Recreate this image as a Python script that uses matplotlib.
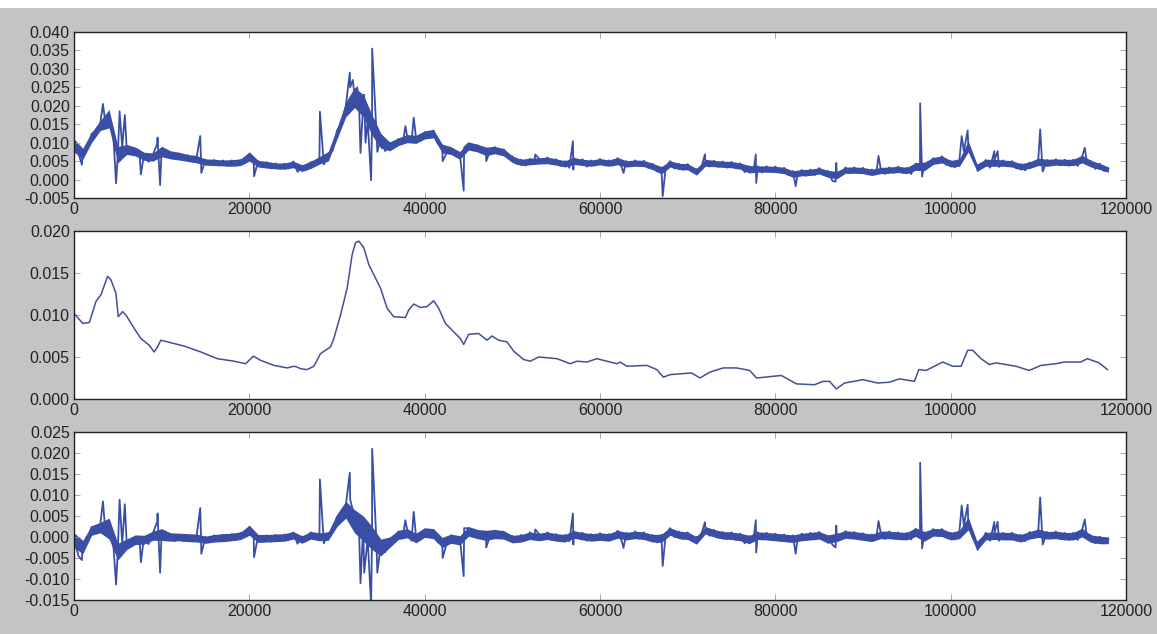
import numpy as np
import matplotlib
matplotlib.use("Agg")
import matplotlib.pyplot as plt
from matplotlib.patches import Rectangle

plt.rcParams['font.family'] = ['Liberation Sans', 'DejaVu Sans']

# sampling grid of the raw / detrended series (every 500 positions)
grid_x = np.arange(0, 118001, 500)

# raw series, one row per 5000 positions
raw_y = [
    0.0102, 0.0072, 0.0076, 0.0082, 0.0124, 0.0128, 0.0153, 0.0168, 0.0169, 0.0113,
    0.0068, 0.0088, 0.0087, 0.0071, 0.0083, 0.0062, 0.0070, 0.0048, 0.0067, 0.0098,
    0.0083, 0.0061, 0.0074, 0.0056, 0.0070, 0.0053, 0.0066, 0.0050, 0.0062, 0.0043,
    0.0054, 0.0039, 0.0053, 0.0038, 0.0052, 0.0037, 0.0052, 0.0037, 0.0053, 0.0045,
    0.0070, 0.0048, 0.0050, 0.0034, 0.0047, 0.0030, 0.0044, 0.0029, 0.0043, 0.0030,
    0.0049, 0.0021, 0.0037, 0.0026, 0.0047, 0.0043, 0.0059, 0.0041, 0.0069, 0.0078,
    0.0133, 0.0152, 0.0199, 0.0250, 0.0230, 0.0220, 0.0210, 0.0160, 0.0160, 0.0130,
    0.0113, 0.0077, 0.0098, 0.0090, 0.0110, 0.0097, 0.0118, 0.0102, 0.0116, 0.0107,
    0.0128, 0.0117, 0.0133, 0.0097, 0.0093, 0.0072, 0.0086, 0.0064, 0.0073, 0.0087,
    0.0098, 0.0080, 0.0093, 0.0072, 0.0083, 0.0080, 0.0088, 0.0068, 0.0082, 0.0062,
    0.0063, 0.0042, 0.0054, 0.0038, 0.0056, 0.0047, 0.0058, 0.0044, 0.0060, 0.0042,
    0.0055, 0.0037, 0.0050, 0.0032, 0.0058, 0.0042, 0.0055, 0.0035, 0.0052, 0.0039,
    0.0056, 0.0038, 0.0052, 0.0038, 0.0058, 0.0032, 0.0050, 0.0036, 0.0052, 0.0036,
    0.0051, 0.0032, 0.0043, 0.0022, 0.0033, 0.0034, 0.0050, 0.0030, 0.0043, 0.0026,
    0.0042, 0.0022, 0.0028, 0.0027, 0.0053, 0.0035, 0.0051, 0.0034, 0.0049, 0.0032,
    0.0048, 0.0030, 0.0044, 0.0020, 0.0036, 0.0022, 0.0036, 0.0019, 0.0036, 0.0020,
    0.0035, 0.0019, 0.0032, 0.0012, 0.0023, 0.0009, 0.0026, 0.0010, 0.0027, 0.0012,
    0.0031, 0.0017, 0.0023, -0.0003, 0.0020, 0.0014, 0.0033, 0.0017, 0.0033, 0.0017,
    0.0032, 0.0014, 0.0027, 0.0014, 0.0032, 0.0015, 0.0033, 0.0018, 0.0035, 0.0018,
    0.0032, 0.0015, 0.0043, 0.0037, 0.0043, 0.0040, 0.0058, 0.0047, 0.0063, 0.0040,
    0.0050, 0.0033, 0.0053, 0.0077, 0.0098, 0.0057, 0.0038, 0.0034, 0.0053, 0.0032,
    0.0053, 0.0034, 0.0052, 0.0036, 0.0050, 0.0030, 0.0042, 0.0025, 0.0046, 0.0037,
    0.0056, 0.0022, 0.0053, 0.0040, 0.0055, 0.0038, 0.0054, 0.0037, 0.0054, 0.0037,
    0.0063, 0.0052, 0.0050, 0.0029, 0.0043, 0.0023, 0.0030,
]

# detrended series on the same grid
resid_y = [
    0.0000, -0.0045, -0.0014, -0.0008, 0.0024, 0.0015, 0.0030, 0.0033, 0.0024, -0.0022,
    -0.0032, -0.0016, -0.0011, -0.0019, 0.0001, -0.0012, 0.0001, -0.0017, 0.0009, 0.0037,
    0.0013, -0.0007, 0.0007, -0.0010, 0.0006, -0.0010, 0.0005, -0.0009, 0.0005, -0.0013,
    0.0000, -0.0012, 0.0004, -0.0010, 0.0005, -0.0009, 0.0007, -0.0007, 0.0010, 0.0003,
    0.0024, -0.0003, 0.0003, -0.0011, 0.0004, -0.0011, 0.0005, -0.0009, 0.0006, -0.0007,
    0.0011, -0.0016, 0.0001, -0.0009, 0.0011, 0.0002, 0.0007, -0.0015, 0.0009, 0.0013,
    0.0048, 0.0048, 0.0074, 0.0090, 0.0047, 0.0032, 0.0029, -0.0005, 0.0010, -0.0012,
    -0.0017, -0.0036, -0.0004, -0.0008, 0.0013, 0.0000, 0.0017, -0.0009, 0.0005, -0.0002,
    0.0018, 0.0005, 0.0016, -0.0013, -0.0005, -0.0016, 0.0004, -0.0014, 0.0000, 0.0021,
    0.0021, 0.0002, 0.0015, -0.0003, 0.0012, 0.0006, 0.0015, -0.0002, 0.0013, -0.0005,
    0.0003, -0.0012, 0.0005, -0.0008, 0.0011, -0.0001, 0.0008, -0.0006, 0.0011, -0.0007,
    0.0007, -0.0010, 0.0005, -0.0010, 0.0014, -0.0003, 0.0010, -0.0009, 0.0007, -0.0008,
    0.0009, -0.0008, 0.0007, -0.0005, 0.0015, -0.0011, 0.0010, -0.0003, 0.0013, -0.0004,
    0.0011, -0.0008, 0.0005, -0.0013, 0.0005, 0.0007, 0.0021, 0.0000, 0.0013, -0.0005,
    0.0011, -0.0009, 0.0000, 0.0002, 0.0024, 0.0003, 0.0017, -0.0002, 0.0012, -0.0005,
    0.0011, -0.0007, 0.0008, -0.0015, 0.0002, -0.0008, 0.0011, -0.0006, 0.0010, -0.0007,
    0.0008, -0.0009, 0.0006, -0.0011, 0.0004, -0.0009, 0.0008, -0.0007, 0.0010, -0.0005,
    0.0012, -0.0004, 0.0003, -0.0018, 0.0007, -0.0003, 0.0014, -0.0003, 0.0012, -0.0005,
    0.0009, -0.0008, 0.0006, -0.0005, 0.0013, -0.0005, 0.0013, -0.0004, 0.0011, -0.0005,
    0.0010, -0.0006, 0.0019, 0.0002, 0.0009, 0.0004, 0.0019, 0.0005, 0.0019, -0.0002,
    0.0010, -0.0006, 0.0014, 0.0027, 0.0040, -0.0001, -0.0014, -0.0013, 0.0010, -0.0009,
    0.0011, -0.0009, 0.0010, -0.0005, 0.0010, -0.0009, 0.0005, -0.0010, 0.0012, 0.0001,
    0.0017, -0.0018, 0.0012, -0.0001, 0.0013, -0.0005, 0.0010, -0.0007, 0.0010, -0.0007,
    0.0018, 0.0004, 0.0004, -0.0015, 0.0001, -0.0015, -0.0005,
]

# spread of the dense noise, read every 1000 positions (one row per 10000)
band_x = np.arange(0, 118001, 1000)
raw_lo = [
    0.0075, 0.0055, 0.0100, 0.0133, 0.0140, 0.0045, 0.0068, 0.0064, 0.0052, 0.0050,
    0.0062, 0.0056, 0.0053, 0.0049, 0.0045, 0.0039, 0.0038, 0.0037, 0.0036, 0.0038,
    0.0050, 0.0034, 0.0031, 0.0029, 0.0028, 0.0032, 0.0022, 0.0030, 0.0042, 0.0050,
    0.0110, 0.0170, 0.0195, 0.0170, 0.0120, 0.0085, 0.0078, 0.0092, 0.0100, 0.0098,
    0.0110, 0.0113, 0.0072, 0.0068, 0.0055, 0.0080, 0.0075, 0.0065, 0.0070, 0.0064,
    0.0046, 0.0038, 0.0040, 0.0042, 0.0043, 0.0039, 0.0034, 0.0041, 0.0038, 0.0036,
    0.0040, 0.0036, 0.0040, 0.0034, 0.0036, 0.0035, 0.0027, 0.0015, 0.0034, 0.0027,
    0.0026, 0.0012, 0.0036, 0.0035, 0.0033, 0.0032, 0.0028, 0.0018, 0.0020, 0.0020,
    0.0019, 0.0016, 0.0006, 0.0010, 0.0011, 0.0015, 0.0006, 0.0002, 0.0017, 0.0017,
    0.0016, 0.0011, 0.0016, 0.0017, 0.0019, 0.0016, 0.0025, 0.0024, 0.0041, 0.0045,
    0.0034, 0.0036, 0.0075, 0.0022, 0.0036, 0.0036, 0.0036, 0.0034, 0.0026, 0.0030,
    0.0038, 0.0036, 0.0039, 0.0038, 0.0038, 0.0045, 0.0034, 0.0027, 0.0020,
]
raw_hi = [
    0.0110, 0.0085, 0.0128, 0.0160, 0.0190, 0.0090, 0.0095, 0.0088, 0.0074, 0.0072,
    0.0090, 0.0078, 0.0074, 0.0068, 0.0065, 0.0056, 0.0055, 0.0053, 0.0054, 0.0056,
    0.0075, 0.0052, 0.0049, 0.0045, 0.0045, 0.0050, 0.0040, 0.0050, 0.0062, 0.0076,
    0.0140, 0.0210, 0.0250, 0.0230, 0.0175, 0.0125, 0.0102, 0.0113, 0.0122, 0.0120,
    0.0132, 0.0136, 0.0096, 0.0089, 0.0076, 0.0102, 0.0096, 0.0088, 0.0090, 0.0084,
    0.0064, 0.0055, 0.0058, 0.0059, 0.0061, 0.0056, 0.0051, 0.0060, 0.0055, 0.0053,
    0.0057, 0.0053, 0.0060, 0.0051, 0.0053, 0.0052, 0.0044, 0.0035, 0.0051, 0.0044,
    0.0043, 0.0030, 0.0055, 0.0052, 0.0050, 0.0049, 0.0045, 0.0038, 0.0037, 0.0037,
    0.0036, 0.0033, 0.0024, 0.0027, 0.0028, 0.0032, 0.0025, 0.0022, 0.0034, 0.0034,
    0.0033, 0.0028, 0.0033, 0.0034, 0.0036, 0.0033, 0.0046, 0.0047, 0.0060, 0.0064,
    0.0052, 0.0056, 0.0105, 0.0042, 0.0055, 0.0055, 0.0053, 0.0051, 0.0043, 0.0048,
    0.0058, 0.0055, 0.0056, 0.0055, 0.0055, 0.0066, 0.0052, 0.0044, 0.0034,
]
resid_lo = [
    -0.0025, -0.0040, 0.0004, 0.0010, -0.0005, -0.0055, -0.0030, -0.0018, -0.0017, -0.0008,
    -0.0008, -0.0010, -0.0009, -0.0011, -0.0012, -0.0015, -0.0012, -0.0011, -0.0009, -0.0006,
    0.0004, -0.0013, -0.0012, -0.0011, -0.0010, -0.0005, -0.0015, -0.0005, -0.0009, -0.0008,
    0.0025, 0.0045, 0.0010, -0.0010, -0.0030, -0.0045, -0.0025, -0.0006, -0.0002, -0.0014,
    -0.0001, -0.0004, -0.0025, -0.0015, -0.0019, 0.0002, -0.0004, -0.0008, -0.0004, -0.0005,
    -0.0014, -0.0012, -0.0006, -0.0009, -0.0006, -0.0010, -0.0012, -0.0003, -0.0007, -0.0010,
    -0.0008, -0.0010, -0.0003, -0.0007, -0.0004, -0.0006, -0.0012, -0.0013, 0.0004, -0.0004,
    -0.0006, -0.0017, 0.0007, 0.0000, -0.0005, -0.0006, -0.0009, -0.0016, -0.0006, -0.0007,
    -0.0009, -0.0011, -0.0013, -0.0009, -0.0007, -0.0005, -0.0015, -0.0011, -0.0003, -0.0005,
    -0.0008, -0.0011, -0.0004, -0.0004, -0.0006, -0.0007, 0.0001, -0.0010, 0.0002, 0.0001,
    -0.0007, -0.0004, 0.0017, -0.0032, -0.0007, -0.0006, -0.0007, -0.0007, -0.0012, -0.0005,
    -0.0001, -0.0005, -0.0004, -0.0007, -0.0007, 0.0000, -0.0013, -0.0016, -0.0016,
]
resid_hi = [
    0.0010, -0.0008, 0.0027, 0.0035, 0.0045, -0.0015, -0.0005, 0.0005, 0.0004, 0.0014,
    0.0020, 0.0010, 0.0009, 0.0008, 0.0007, 0.0002, 0.0006, 0.0008, 0.0009, 0.0012,
    0.0028, 0.0006, 0.0006, 0.0007, 0.0008, 0.0013, 0.0003, 0.0013, 0.0010, 0.0012,
    0.0055, 0.0085, 0.0065, 0.0050, 0.0025, -0.0005, 0.0000, 0.0016, 0.0020, 0.0009,
    0.0022, 0.0020, -0.0001, 0.0007, 0.0003, 0.0025, 0.0018, 0.0016, 0.0018, 0.0015,
    0.0004, 0.0006, 0.0012, 0.0009, 0.0012, 0.0008, 0.0006, 0.0015, 0.0011, 0.0008,
    0.0010, 0.0008, 0.0016, 0.0011, 0.0014, 0.0012, 0.0006, 0.0007, 0.0022, 0.0014,
    0.0012, 0.0001, 0.0025, 0.0018, 0.0013, 0.0012, 0.0009, 0.0004, 0.0012, 0.0011,
    0.0009, 0.0007, 0.0005, 0.0009, 0.0011, 0.0013, 0.0005, 0.0009, 0.0015, 0.0013,
    0.0010, 0.0007, 0.0014, 0.0014, 0.0012, 0.0011, 0.0022, 0.0013, 0.0020, 0.0020,
    0.0011, 0.0016, 0.0047, -0.0010, 0.0011, 0.0012, 0.0011, 0.0011, 0.0006, 0.0013,
    0.0019, 0.0013, 0.0014, 0.0011, 0.0011, 0.0021, 0.0005, 0.0002, 0.0000,
]

# narrow spikes between grid samples
raw_spike_x = [900, 3300, 4800, 5200, 5800, 7630, 9530, 9820, 14400, 14520,
               20540, 28050, 31460, 31800, 32300, 32680, 33100, 33250, 33890, 34010,
               34600, 37800, 38750, 42050, 44450, 47020, 52620, 56910, 56960, 62680,
               67150, 71960, 77770, 77820, 82320, 86870, 86950, 91770, 96520, 96740,
               101260, 101940, 103080, 104980, 105360, 110210, 110480, 115300]
raw_spike_y = [0.0040, 0.0205, -0.0010, 0.0185, 0.0175, 0.0014, 0.0114, -0.0015, 0.0118, 0.0018,
               0.0009, 0.0184, 0.0290, 0.0270, 0.0250, 0.0072, 0.0230, 0.0100, -0.0002, 0.0355,
               0.0075, 0.0145, 0.0168, 0.0050, -0.0030, 0.0050, 0.0068, 0.0104, 0.0027, 0.0018,
               -0.0045, 0.0068, 0.0068, -0.0009, -0.0018, -0.0006, 0.0045, 0.0064, 0.0207, 0.0008,
               0.0118, 0.0133, 0.0024, 0.0077, 0.0077, 0.0136, 0.0025, 0.0086]

resid_spike_x = [900, 3300, 4800, 5200, 5800, 7630, 9530, 9820, 14400, 14520,
                 20540, 28050, 31460, 32680, 33100, 33890, 34010, 34600, 37800, 38750,
                 42050, 44450, 47020, 52620, 56910, 56960, 62680, 67150, 71960, 77770,
                 77820, 82320, 86870, 86950, 91770, 96520, 96740, 101260, 101940, 103080,
                 104980, 105360, 110210, 110480, 115300]
resid_spike_y = [-0.0055, 0.0085, -0.0113, 0.0089, 0.0078, -0.0060, 0.0056, -0.0085, 0.0069, -0.0040,
                 -0.0048, 0.0137, 0.0153, -0.0110, -0.0085, -0.0160, 0.0210, -0.0085, 0.0040, 0.0060,
                 -0.0050, -0.0093, -0.0025, 0.0018, 0.0056, -0.0018, -0.0026, -0.0069, 0.0035, 0.0040,
                 -0.0037, -0.0040, -0.0025, 0.0027, 0.0038, 0.0177, -0.0027, 0.0075, 0.0077, -0.0030,
                 0.0036, 0.0036, 0.0094, -0.0015, 0.0042]

# smoothed trend
trend_x = [0, 1000, 1750, 2500, 3070, 3830, 4210, 4780, 5050, 5540, 5920, 6870, 7630, 8580,
           9140, 9530, 9900, 10670, 12560, 14460, 16360, 18250, 19580, 20460, 21290, 22810,
           24330, 25080, 25460, 25840, 26600, 27360, 28120, 28690, 29260, 29640, 30400, 31160,
           31730, 32110, 32490, 33060, 33630, 34200, 34960, 35720, 36470, 37800, 38180, 38750,
           39510, 40270, 41030, 41600, 42360, 43310, 44070, 44450, 45020, 46160, 47110, 47680,
           48440, 49390, 50150, 51290, 52050, 53000, 55090, 56610, 57370, 58510, 59640, 60780,
           61920, 62300, 63060, 65340, 66480, 67230, 67990, 70450, 71400, 72540, 74060, 75570,
           77090, 77850, 79740, 80690, 82400, 84480, 85430, 86190, 86950, 87890, 89980, 91690,
           93020, 94160, 95870, 96360, 97200, 99090, 100230, 101190, 101940, 102510, 103460,
           104410, 105170, 107450, 108960, 110290, 111990, 112940, 114840, 115600, 116930, 117880]
trend_y = [0.0102, 0.0090, 0.0091, 0.0116, 0.0124, 0.0146, 0.0142, 0.0126, 0.0098, 0.0104,
           0.0100, 0.0084, 0.0072, 0.0064, 0.0056, 0.0062, 0.0070, 0.0068, 0.0063, 0.0056,
           0.0048, 0.0045, 0.0042, 0.0051, 0.0046, 0.0040, 0.0037, 0.0039, 0.0038, 0.0036,
           0.0035, 0.0039, 0.0054, 0.0058, 0.0062, 0.0072, 0.0100, 0.0132, 0.0172, 0.0186,
           0.0188, 0.0180, 0.0160, 0.0148, 0.0132, 0.0108, 0.0098, 0.0097, 0.0106, 0.0113,
           0.0109, 0.0110, 0.0117, 0.0108, 0.0090, 0.0080, 0.0072, 0.0065, 0.0077, 0.0078,
           0.0070, 0.0075, 0.0070, 0.0068, 0.0057, 0.0047, 0.0045, 0.0050, 0.0048, 0.0042,
           0.0045, 0.0044, 0.0048, 0.0045, 0.0042, 0.0044, 0.0039, 0.0040, 0.0035, 0.0026,
           0.0029, 0.0031, 0.0025, 0.0032, 0.0037, 0.0037, 0.0034, 0.0025, 0.0027, 0.0028,
           0.0018, 0.0017, 0.0021, 0.0021, 0.0012, 0.0019, 0.0023, 0.0019, 0.0020, 0.0024,
           0.0021, 0.0035, 0.0034, 0.0044, 0.0039, 0.0039, 0.0058, 0.0058, 0.0048, 0.0041,
           0.0043, 0.0039, 0.0034, 0.0040, 0.0042, 0.0044, 0.0044, 0.0048, 0.0043, 0.0035]


def merged(xs, ys, sx, sy):
    x = np.concatenate([xs, sx])
    y = np.concatenate([ys, sy])
    order = np.argsort(x, kind='stable')
    return x[order], y[order]


line_color = '#3a4ea6'
trend_color = '#434f96'
bg = '#c3c4c6'

fig = plt.figure(figsize=(11.57, 6.34), dpi=100, facecolor=bg)
left, width = 74 / 1157, (1126 - 74) / 1157
boxes = [(32, 198), (231, 399), (432, 600)]
axes = []
for top, bot in boxes:
    ax = fig.add_axes([left, 1 - bot / 634, width, (bot - top) / 634])
    axes.append(ax)

ax1, ax2, ax3 = axes

# top: raw signal
ax1.fill_between(band_x, raw_lo, raw_hi, color=line_color, lw=0)
x1, y1 = merged(grid_x, raw_y, raw_spike_x, raw_spike_y)
ax1.plot(x1, y1, color=line_color, lw=1.3)
ax1.set_ylim(-0.005, 0.040)
ax1.set_yticks(np.arange(-0.005, 0.0401, 0.005))

# middle: trend
ax2.plot(trend_x, trend_y, color=trend_color, lw=1.1)
ax2.set_ylim(0.0, 0.020)
ax2.set_yticks(np.arange(0.0, 0.0201, 0.005))

# bottom: detrended
ax3.fill_between(band_x, resid_lo, resid_hi, color=line_color, lw=0)
x3, y3 = merged(grid_x, resid_y, resid_spike_x, resid_spike_y)
ax3.plot(x3, y3, color=line_color, lw=1.3)
ax3.set_ylim(-0.015, 0.025)
ax3.set_yticks(np.arange(-0.015, 0.0251, 0.005))

for ax in axes:
    ax.set_xlim(0, 120000)
    ax.set_xticks(np.arange(0, 120001, 20000))
    ax.set_xticklabels([str(v) for v in range(0, 120001, 20000)])
    ax.set_yticklabels(['%.3f' % v if abs(v) > 1e-9 else '0.000' for v in ax.get_yticks()])
    ax.tick_params(direction='in', top=True, right=True, labelsize=11.5,
                   length=4, width=0.6, color='#999999', labelcolor='#222222', pad=3)
    for s in ax.spines.values():
        s.set_linewidth(1.0)
        s.set_color('#222222')

# white caption strip at the very top of the scan
fig.add_artist(Rectangle((0, 1 - 8 / 634), 1, 8 / 634, transform=fig.transFigure,
                         facecolor='white', edgecolor='none'))

fig.savefig('out.png', dpi=100, facecolor=bg)
